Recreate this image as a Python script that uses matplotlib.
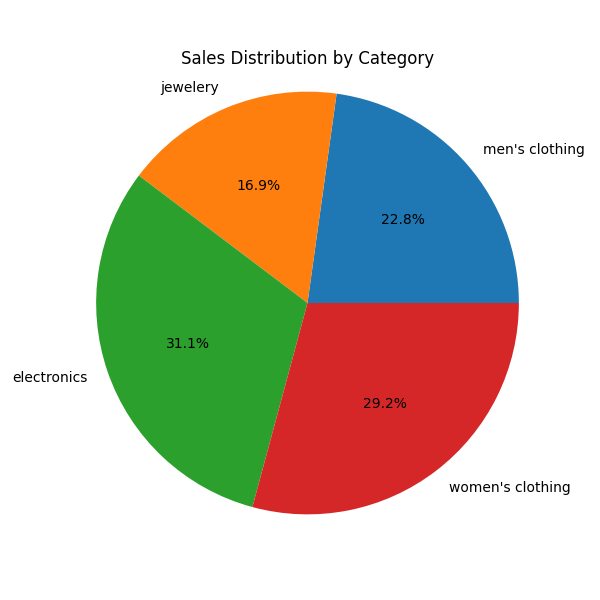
import matplotlib
matplotlib.use("Agg")
import matplotlib.pyplot as plt

categories = ["men's clothing", "jewelery", "electronics", "women's clothing"]
shares = [22.8, 16.9, 31.1, 29.2]

plt.figure(figsize=(6, 6))
plt.pie(shares, labels=categories, autopct='%1.1f%%')
plt.title("Sales Distribution by Category")
plt.axis('equal')
plt.savefig("out.png", dpi=100)
